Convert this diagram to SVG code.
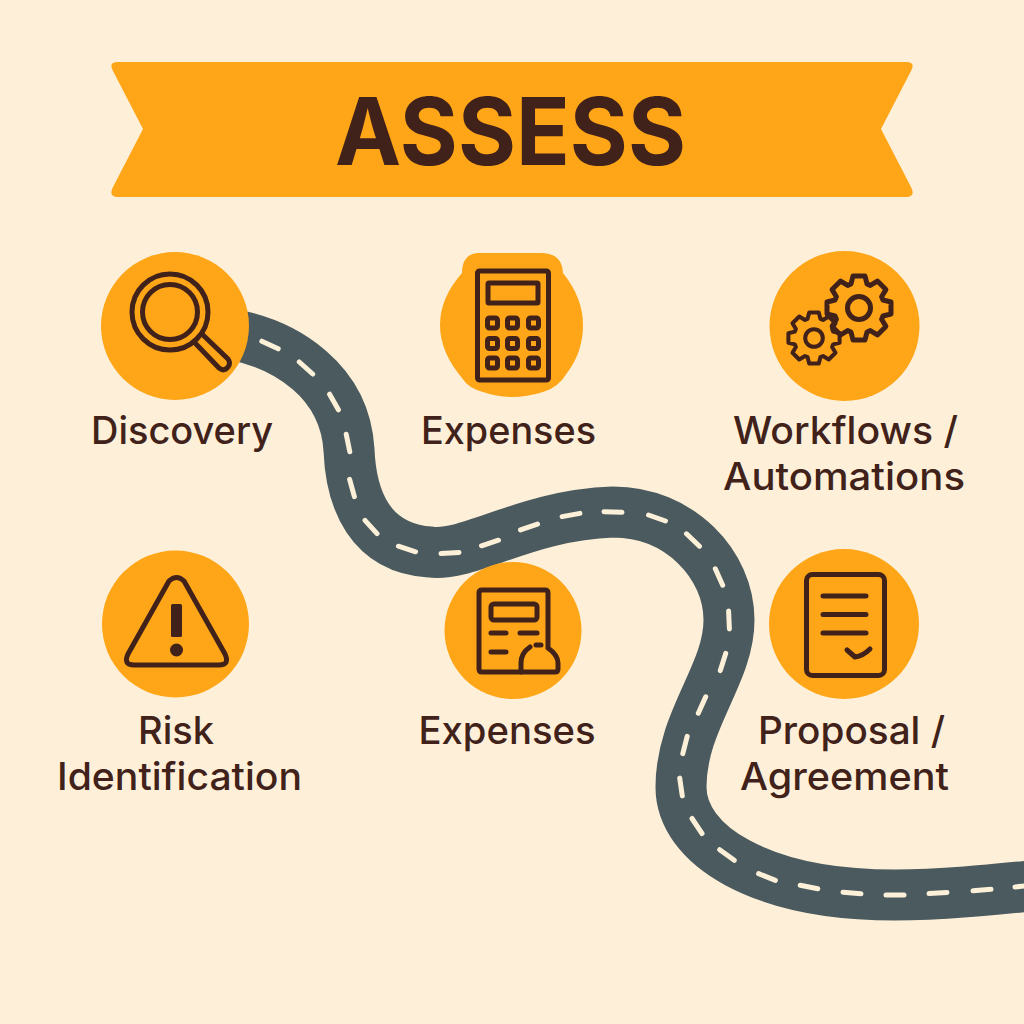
<svg xmlns="http://www.w3.org/2000/svg" width="1024" height="1024" viewBox="0 0 1024 1024">
<style>
.bg{fill:#fef0d8}
.disc{fill:#fea518}
.ic{fill:none;stroke:#41221a;stroke-width:5;stroke-linecap:round;stroke-linejoin:round}
.icf{fill:#41221a;stroke:none}
.lbl{font-family:"Inter","Noto Sans",sans-serif;font-size:38px;font-weight:500;fill:#41221a;text-anchor:middle}
.title{font-family:"Inter","Noto Sans",sans-serif;font-size:93px;font-weight:700;fill:#41221a;text-anchor:middle}
.road{fill:none;stroke:#4a5a5f;stroke-width:51}
.dash{fill:none;stroke:#fdf0d8;stroke-width:5;stroke-linecap:round}
</style>
<defs>
<path id="gear" d="M6 -32L8 -24L11.300 -22.600L18.400 -26.900L26.900 -18.400L22.600 -11.300L24 -8L32 -6V6L24 8L22.600 11.300L26.900 18.400L18.400 26.900L11.300 22.600L8 24L6 32H-6L-8 24L-11.300 22.600L-18.400 26.900L-26.900 18.400L-22.600 11.300L-24 8L-32 6V-6L-24 -8L-22.600 -11.300L-26.900 -18.400L-18.400 -26.900L-11.300 -22.600L-8 -24L-6 -32Z"/>
</defs>
<rect class="bg" width="1024" height="1024"/>
<g id="banner">
<path d="M118 62H906Q916 62 911 71L881 129L911 187Q916 197 906 197H118Q108 197 113 187L143 129L113 71Q108 62 118 62Z" fill="#fea518"/>
<text class="title" x="510.500" y="165" textLength="351" lengthAdjust="spacingAndGlyphs">ASSESS</text>
</g>
<g id="connectors">
<path class="road" d="M235 335C285 345 345 380 349 450C351 500 370 548 430 552C470 557 525 515 613 512C680 512 729 565 729 620C729 675 681 720 681 787C681 845 760 895 895 895C940 895 990 890 1040 885"/>
<path class="dash" d="M261.800 341.200L278.200 348.800M299.300 362L312.700 374M329.600 394.200L338.400 409.800M346.200 434.200L349.800 451.800M349.600 479.300L354.400 496.700M365 520.300L377 533.700M398.400 546.200L415.600 551.800M441 553.600L459 552.400M481.500 545.800L498.500 540.200M520.500 529.900L537.500 524.100M562.100 516.600L579.900 513.400M604 511.700L622 512.300M648.500 515L665.500 521M686.500 533.800L699.500 546.200M715.300 568.800L722.700 585.200M728.600 611L729.400 629M725.700 653.400L720.300 670.600M705.700 696.800L698.300 713.200M687.200 736.300L682.800 753.700M679.700 778.100L682.300 795.900M692 818.500L702 833.500M719.700 849.700L734.300 860.300M758.600 873.700L775.400 880.300M800.200 885.300L817.800 888.700M843 892.200L861 893.800M886 895H904M929 893.500L947 892.500M973 890.700L991 889.300M1015 887L1033 885"/>
</g>
<g id="discovery">
<circle class="disc" cx="175" cy="326" r="74"/>
<circle class="ic" cx="170" cy="312" r="38"/>
<circle class="ic" cx="170" cy="312" r="27.500"/>
<path class="ic" d="M196 344L219 368Q224 372 228 367Q231 363 228 359L203 335"/>
<text class="lbl" x="182" y="444" textLength="182" lengthAdjust="spacingAndGlyphs">Discovery</text>
</g>
<g id="expenses1">
<path class="disc" d="M477 253H543Q562 254 563 273Q583 298 583 325Q583 352 567 373Q558 388 543 392Q527 397 512 397Q497 397 483 392Q468 388 462 378Q440 352 440 325Q440 298 462 273Q462 255 477 253Z"/>
<rect class="ic" x="477.500" y="271" width="71" height="109" rx="2"/>
<rect class="ic" x="488" y="283" width="50" height="20" rx="1"/>
<g>
<rect class="ic" x="487.500" y="318" width="10" height="10" rx="2"/><rect class="ic" x="507.500" y="318" width="10" height="10" rx="2"/><rect class="ic" x="528.500" y="318" width="10" height="10" rx="2"/>
<rect class="ic" x="487.500" y="338.500" width="10" height="10" rx="2"/><rect class="ic" x="507.500" y="338.500" width="10" height="10" rx="2"/><rect class="ic" x="528.500" y="338.500" width="10" height="10" rx="2"/>
<rect class="ic" x="487.500" y="358" width="10" height="10" rx="2"/><rect class="ic" x="507.500" y="358" width="10" height="10" rx="2"/><rect class="ic" x="528.500" y="358" width="10" height="10" rx="2"/>
</g>
<text class="lbl" x="508.500" y="444" textLength="175" lengthAdjust="spacingAndGlyphs">Expenses</text>
</g>
<g id="workflows">
<circle class="disc" cx="844.500" cy="326" r="75"/>
<use href="#gear" class="ic" x="859" y="308"/>
<circle class="ic" cx="859" cy="308" r="11.500"/>
<g transform="translate(814 338) scale(.8)">
<use href="#gear" class="ic" stroke-width="6"/>
<circle class="ic" r="11" stroke-width="6"/>
</g>
<text class="lbl" x="845.500" y="444" textLength="225" lengthAdjust="spacingAndGlyphs">Workflows /</text>
<text class="lbl" x="844" y="490" textLength="242" lengthAdjust="spacingAndGlyphs">Automations</text>
</g>
<g id="risk">
<circle class="disc" cx="175.500" cy="624" r="73.500"/>
<path class="ic" d="M169 581Q176.500 574 184 581L225 654Q230 665 219 665H134Q123 665 128 654Z"/>
<rect class="icf" x="171" y="604" width="11" height="33" rx="1.500"/>
<circle class="icf" cx="176.500" cy="650" r="6.500"/>
<text class="lbl" x="176" y="744" textLength="76" lengthAdjust="spacingAndGlyphs">Risk</text>
<text class="lbl" x="179.500" y="790" textLength="245" lengthAdjust="spacingAndGlyphs">Identification</text>
</g>
<g id="expenses2">
<circle class="disc" cx="513" cy="630.500" r="68.500"/>
<path class="ic" d="M548 647V593Q548 590 545 590H482Q479 590 479 593V669Q479 672 482 672H555Q558 672 558 669V663Q558 655 548 648"/>
<rect class="ic" x="491" y="604" width="46" height="16" rx="3"/>
<path class="ic" d="M491 633H506M520 633H537M491 652H506"/>
<path class="ic" d="M521 672V663Q521 653 530 647M536 645H541"/>
<text class="lbl" x="507" y="744" textLength="177" lengthAdjust="spacingAndGlyphs">Expenses</text>
</g>
<g id="proposal">
<circle class="disc" cx="844" cy="624" r="75"/>
<rect class="ic" x="806.500" y="574.500" width="78" height="101" rx="6"/>
<path class="ic" d="M823 596H866M823 614.500H866M823 633H866M847 650L855 657Q863 656 870 649"/>
<text class="lbl" x="851.500" y="744" textLength="187" lengthAdjust="spacingAndGlyphs">Proposal /</text>
<text class="lbl" x="844.500" y="790" textLength="209" lengthAdjust="spacingAndGlyphs">Agreement</text>
</g>
</svg>
